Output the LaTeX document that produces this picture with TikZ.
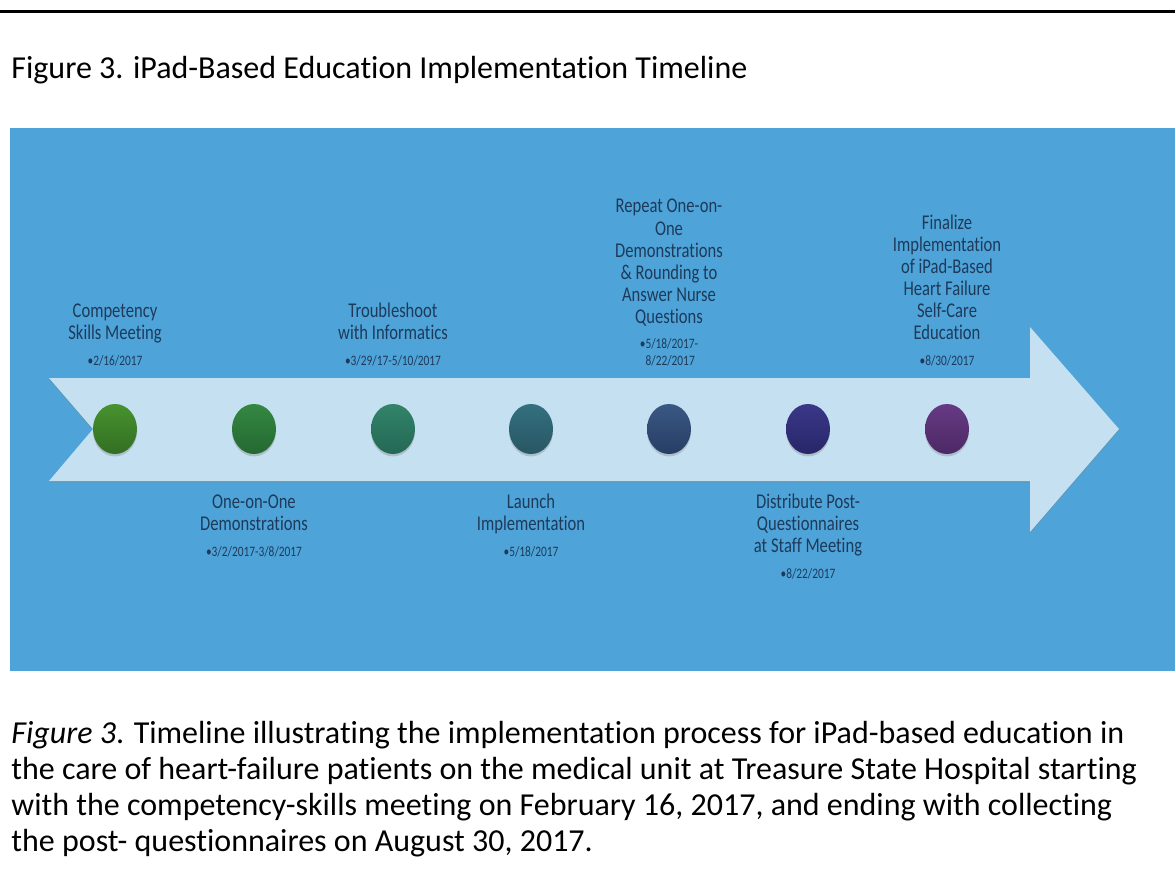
\documentclass[tikz,border=0pt]{standalone}
\usepackage{fontspec}
\setmainfont{Carlito}[Ligatures=NoCommon]
\newfontfamily\lblfont[FakeStretch=0.79,Ligatures=NoCommon]{Carlito}
\usetikzlibrary{shapes.geometric,shadows}

\definecolor{panelblue}{RGB}{78,164,216}
\definecolor{bandblue}{RGB}{197,224,241}
\definecolor{lbltext}{RGB}{30,58,90}
\definecolor{mAtop}{RGB}{72,146,46}   \definecolor{mAbot}{RGB}{50,110,36}
\definecolor{mBtop}{RGB}{52,136,66}   \definecolor{mBbot}{RGB}{36,104,50}
\definecolor{mCtop}{RGB}{50,132,106}  \definecolor{mCbot}{RGB}{36,104,84}
\definecolor{mDtop}{RGB}{52,112,126}  \definecolor{mDbot}{RGB}{40,86,100}
\definecolor{mEtop}{RGB}{58,88,132}   \definecolor{mEbot}{RGB}{38,62,100}
\definecolor{mFtop}{RGB}{58,56,136}   \definecolor{mFbot}{RGB}{40,38,104}
\definecolor{mGtop}{RGB}{102,58,132}  \definecolor{mGbot}{RGB}{76,40,100}

\tikzset{
  milestone/.style={ellipse, minimum width=22pt, minimum height=25pt, inner sep=0pt,
    drop shadow={shadow xshift=0pt, shadow yshift=-1.2pt, opacity=0.35}},
  toplbl/.style={anchor=south, align=center, inner sep=0pt, text=lbltext,
    font=\lblfont\fontsize{10.5}{11}\selectfont},
  botlbl/.style={toplbl, anchor=north},
  captxt/.style={anchor=base west, inner sep=0pt, font=\fontsize{16}{18}\selectfont}
}
\newcommand{\datetxt}[1]{{\fontsize{7.2}{8}\selectfont #1}}

\begin{document}
\begin{tikzpicture}[x=0.5pt,y=0.5pt,yscale=-1,xscale=1]
\useasboundingbox (0,0) rectangle (1175,896);

%Shape: Rule
\draw [line width=1.5pt] (0,11.5) -- (1175,11.5) ;
% Text Node
\node [captxt] (title) at (11,78) {Figure 3. iPad-Based Education Implementation Timeline};

%Shape: Rectangle
\fill [panelblue] (10,128) rectangle (1175,671) ;
%Shape: Arrow band
\fill [bandblue, drop shadow={shadow xshift=0pt, shadow yshift=-0.8pt, opacity=0.3}]
  (49,378) -- (1030,378) -- (1030,327) -- (1119,429) -- (1030,532) -- (1030,481) -- (49,481) -- (93,429) -- cycle ;

%Shape: Ellipses
\node [milestone, top color=mAtop, bottom color=mAbot] (m1) at (115,429) {};
\node [milestone, top color=mBtop, bottom color=mBbot] (m2) at (254,429) {};
\node [milestone, top color=mCtop, bottom color=mCbot] (m3) at (393,429) {};
\node [milestone, top color=mDtop, bottom color=mDbot] (m4) at (531,429) {};
\node [milestone, top color=mEtop, bottom color=mEbot] (m5) at (669,429) {};
\node [milestone, top color=mFtop, bottom color=mFbot] (m6) at (808,429) {};
\node [milestone, top color=mGtop, bottom color=mGbot] (m7) at (947,429) {};

% Text Node
\node [toplbl] (t1) at (115,367) {Competency\\Skills Meeting\\[2pt]\datetxt{•2/16/2017}};
% Text Node
\node [botlbl] (t2) at (254,494) {One-on-One\\Demonstrations\\[2pt]\datetxt{•3/2/2017-3/8/2017}};
% Text Node
\node [toplbl] (t3) at (393,367) {Troubleshoot\\with Informatics\\[2pt]\datetxt{•3/29/17-5/10/2017}};
% Text Node
\node [botlbl] (t4) at (531,494) {Launch\\Implementation\\[2pt]\datetxt{•5/18/2017}};
% Text Node
\node [toplbl] (t5) at (669,367) {Repeat One-on-\\One\\Demonstrations\\\& Rounding to\\Answer Nurse\\Questions\\[2pt]\datetxt{•5/18/2017-}\\[-2.5pt]\datetxt{\,8/22/2017}};
% Text Node
\node [botlbl] (t6) at (808,494) {Distribute Post-\\Questionnaires\\at Staff Meeting\\[2pt]\datetxt{•8/22/2017}};
% Text Node
\node [toplbl] (t7) at (947,367) {Finalize\\Implementation\\of iPad-Based\\Heart Failure\\Self-Care\\Education\\[2pt]\datetxt{•8/30/2017}};

% Text Node
\node [captxt] (cap1) at (11,743) {\textit{Figure 3}. Timeline illustrating the implementation process for iPad-based education in};
\node [captxt] (cap2) at (11,779) {the care of heart-failure patients on the medical unit at Treasure State Hospital starting};
\node [captxt] (cap3) at (11,815) {with the competency-skills meeting on February 16, 2017, and ending with collecting};
\node [captxt] (cap4) at (11,851) {the post- questionnaires on August 30, 2017.};

\end{tikzpicture}
\end{document}
